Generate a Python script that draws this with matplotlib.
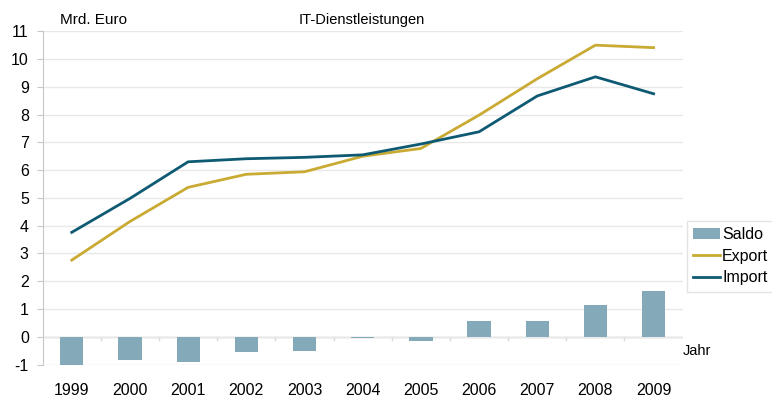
import matplotlib.pyplot as plt
import numpy as np

plt.rcParams['font.family'] = ['Liberation Sans', 'DejaVu Sans']

# values in Mrd. Euro
years = ['1999', '2000', '2001', '2002', '2003', '2004', '2005', '2006', '2007', '2008', '2009']
export = [2.76, 4.15, 5.38, 5.85, 5.94, 6.50, 6.78, 7.98, 9.29, 10.50, 10.41]
imports = [3.76, 4.98, 6.30, 6.41, 6.46, 6.55, 6.94, 7.38, 8.67, 9.36, 8.75]
saldo = [-1.00, -0.85, -0.92, -0.56, -0.52, -0.05, -0.15, 0.58, 0.57, 1.14, 1.66]

c_export = '#C9AA33'
c_import = '#0E5A73'
c_saldo = '#84A9B8'

fig = plt.figure(figsize=(7.72, 4.01), dpi=100)
ax = fig.add_axes([0.0553, 0.091, 0.829, 0.831])

x = np.arange(len(years))
bars = ax.bar(x, saldo, width=0.4, color=c_saldo, label='Saldo', zorder=2)
l_exp, = ax.plot(x, export, color=c_export, lw=2, label='Export', zorder=3)
l_imp, = ax.plot(x, imports, color=c_import, lw=2, label='Import', zorder=3)

ax.set_xlim(-0.5, len(years) - 0.5)
ax.set_ylim(-1, 11)
ax.set_yticks(range(-1, 12))
ax.set_yticklabels([str(v) for v in range(-1, 12)], fontsize=11.5)
ax.grid(axis='y', color='#E8E8E8', lw=1, zorder=0)

# x axis sits on the zero line, labels placed below the chart
for s in ['top', 'right', 'bottom']:
    ax.spines[s].set_visible(False)
ax.spines['left'].set_color('#C8C8C8')
ax.axhline(0, color='#C8C8C8', lw=1, zorder=1)
ax.set_xticks(x)
ax.set_xticklabels(years, fontsize=11.5)
ax.tick_params(axis='x', length=0, pad=13)
ax.tick_params(axis='y', length=4, color='#C8C8C8', pad=6)
for b in np.arange(0.5, len(years) - 1, 1.0):
    ax.plot([b, b], [0, -0.12], color='#D8D8D8', lw=1, clip_on=False, zorder=1)

fig.text(0.078, 0.932, 'Mrd. Euro', fontsize=11, ha='left', va='bottom')
fig.text(0.469, 0.932, 'IT-Dienstleistungen', fontsize=10.5, ha='center', va='bottom')
fig.text(0.885, 0.125, 'Jahr', fontsize=10.5, ha='left', va='center')

leg = ax.legend([bars, l_exp, l_imp], ['Saldo', 'Export', 'Import'],
                loc='upper left', bbox_to_anchor=(0.8898, 0.449), bbox_transform=fig.transFigure,
                fontsize=11.5, frameon=True, fancybox=False, borderpad=0.4,
                handlelength=1.7, handleheight=0.7, handletextpad=0.1, labelspacing=0.4,
                borderaxespad=0)
leg.get_frame().set_edgecolor('#DDDDDD')
leg.get_frame().set_linewidth(1)

fig.savefig('out.png', dpi=100)
